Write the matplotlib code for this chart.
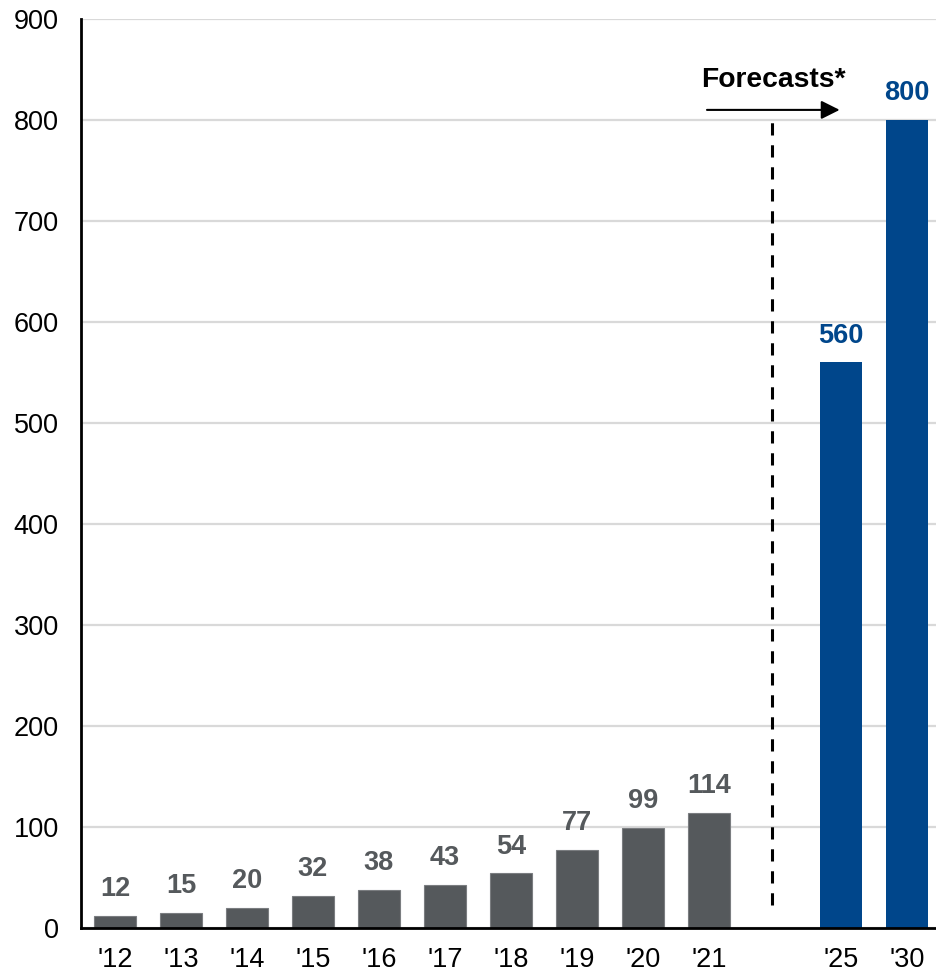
import numpy as np
import matplotlib.pyplot as plt

plt.rcParams['font.family'] = ['Liberation Sans', 'DejaVu Sans']

# historical and forecast values
years_hist = ["'12", "'13", "'14", "'15", "'16", "'17", "'18", "'19", "'20", "'21"]
vals_hist = [12, 15, 20, 32, 38, 43, 54, 77, 99, 114]
years_fc = ["'25", "'30"]
vals_fc = [560, 800]

GREY = '#55595c'
BLUE = '#00468b'

fig = plt.figure(figsize=(9.36, 9.73), dpi=100)
ax = fig.add_axes([81/936, 45/973, 855/936, 909/973])

x_hist = np.arange(len(vals_hist))
x_fc = np.arange(len(vals_fc)) + len(vals_hist) + 1
w = 0.63

ax.bar(x_hist, vals_hist, width=w, color=GREY, edgecolor='#7a7d80', linewidth=0.8, zorder=3)
ax.bar(x_fc, vals_fc, width=w, color=BLUE, zorder=3)

for x, v in zip(x_hist, vals_hist):
    ax.annotate(str(v), (x, v), xytext=(0, 10), textcoords='offset points',
                ha='center', va='bottom', fontsize=19.5, fontweight='bold', color=GREY)
for x, v in zip(x_fc, vals_fc):
    ax.annotate(str(v), (x, v), xytext=(0, 10), textcoords='offset points',
                ha='center', va='bottom', fontsize=19.5, fontweight='bold', color=BLUE)

# forecast divider
xs = len(vals_hist)
ax.plot([xs - 0.05, xs - 0.05], [23, 805], color='black', linestyle=(0, (4, 3.2)),
        linewidth=2.2, zorder=4)
ax.annotate('', xy=(xs + 0.98, 810), xytext=(xs - 1.03, 810),
            arrowprops=dict(arrowstyle='-|>', color='black', lw=1.5,
                            mutation_scale=28, shrinkA=0, shrinkB=0))
ax.text(xs - 0.02, 840, 'Forecasts*', ha='center', va='center',
        fontsize=20.3, fontweight='bold', color='black')

ax.set_xticks(list(x_hist) + list(x_fc))
ax.set_xticklabels(years_hist + years_fc)
ax.set_xlim(-0.515, 12.44)
ax.set_ylim(0, 900)
ax.set_yticks(np.arange(0, 901, 100))
ax.tick_params(axis='both', length=0, labelsize=19.5)
ax.tick_params(axis='x', pad=14)
ax.tick_params(axis='y', pad=16)

ax.grid(axis='y', color='#d9d9d9', linewidth=1.6, zorder=0)
ax.set_axisbelow(True)
for s in ['top', 'right']:
    ax.spines[s].set_visible(False)
ax.spines['left'].set_linewidth(2)
ax.spines['bottom'].set_linewidth(2)
ax.spines['left'].set_zorder(5)
ax.spines['bottom'].set_zorder(5)

fig.savefig('out.png', dpi=100)
